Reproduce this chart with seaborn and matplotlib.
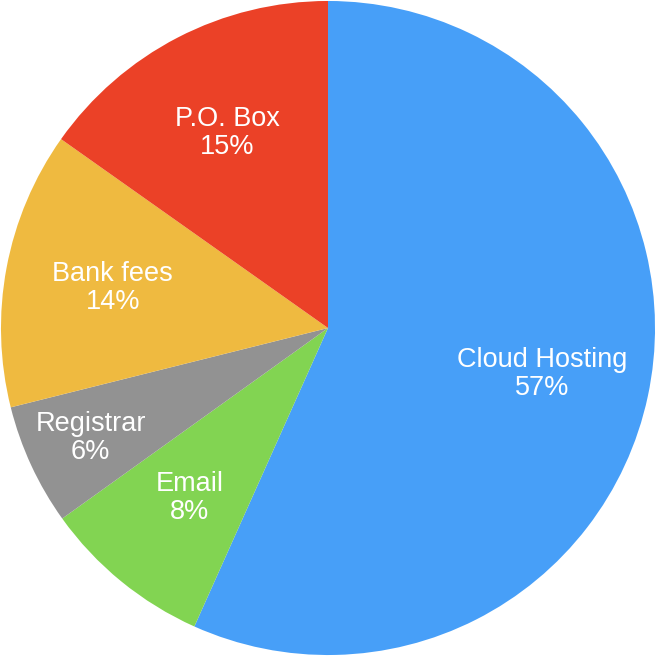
import numpy as np
import matplotlib
matplotlib.use("Agg")
import matplotlib.pyplot as plt
import seaborn as sns

categories = ["Cloud Hosting", "Email", "Registrar", "Bank fees", "P.O. Box"]
shares = [56.7, 8.4, 6.0, 13.7, 15.2]
colors = ["#479FF8", "#82D452", "#929292", "#EFBA40", "#EB4127"]
label_radius = [0.67, 0.67, 0.80, 0.67, 0.67]

sns.set_style("white")
plt.rcParams['font.family'] = ['Liberation Sans', 'DejaVu Sans']

fig = plt.figure(figsize=(6.56, 6.56), dpi=100)
ax = fig.add_axes([0, 0, 1, 1])

wedges, _ = ax.pie(shares, colors=colors, startangle=90, counterclock=False,
                   radius=1.0, wedgeprops=dict(linewidth=0))

for w, name, val, r in zip(wedges, categories, shares, label_radius):
    ang = np.deg2rad((w.theta1 + w.theta2) / 2)
    ax.text(r * np.cos(ang), r * np.sin(ang), f"{name}\n{val:.0f}%",
            ha="center", va="center", color="white", fontsize=19.5,
            linespacing=1.1)

ax.set_xlim(-1.003, 1.003)
ax.set_ylim(-1.003, 1.003)
ax.set_aspect("equal")
ax.axis("off")

fig.savefig("out.png", dpi=100)
